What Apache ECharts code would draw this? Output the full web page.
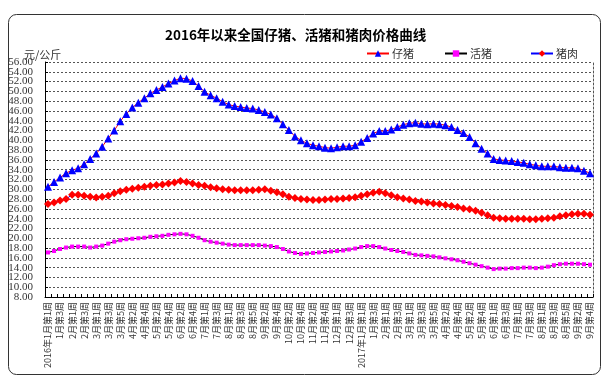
<!DOCTYPE html>
<html>
<head>
<meta charset="utf-8">
<script src="https://cdn.jsdelivr.net/npm/echarts@6/dist/echarts.min.js"></script>
<style>
html,body{margin:0;padding:0;background:#fff;}
#main{width:606px;height:380px;}
</style>
</head>
<body>
<div id="main"></div>
<script>
// Categories: weekly, 2016年1月第1周 .. 2017年9月第4周
var categories = [
'2016年1月第1周','1月第2周','1月第3周','1月第4周',
'2月第1周','2月第2周','2月第3周','2月第4周',
'3月第1周','3月第2周','3月第3周','3月第4周','3月第5周',
'4月第1周','4月第2周','4月第3周','4月第4周',
'5月第1周','5月第2周','5月第3周','5月第4周',
'6月第1周','6月第2周','6月第3周','6月第4周','6月第5周',
'7月第1周','7月第2周','7月第3周','7月第4周',
'8月第1周','8月第2周','8月第3周','8月第4周','8月第5周',
'9月第1周','9月第2周','9月第3周','9月第4周',
'10月第1周','10月第2周','10月第3周','10月第4周',
'11月第1周','11月第2周','11月第3周','11月第4周','11月第5周',
'12月第1周','12月第2周','12月第3周','12月第4周',
'2017年1月第1周','1月第2周','1月第3周','1月第4周',
'2月第1周','2月第2周','2月第3周','2月第4周',
'3月第1周','3月第2周','3月第3周','3月第4周','3月第5周',
'4月第1周','4月第2周','4月第3周','4月第4周',
'5月第1周','5月第2周','5月第3周','5月第4周','5月第5周',
'6月第1周','6月第2周','6月第3周','6月第4周',
'7月第1周','7月第2周','7月第3周','7月第4周',
'8月第1周','8月第2周','8月第3周','8月第4周','8月第5周',
'9月第1周','9月第2周','9月第3周','9月第4周'
];

var piglet = [
30.5,31.5,32.4,33.3,33.9,34.3,35.1,36.2,37.3,38.7,
40.4,42.0,43.9,45.4,46.7,47.7,48.6,49.6,50.3,50.9,
51.6,52.2,52.7,52.6,52.1,51.1,49.9,49.2,48.6,47.9,
47.3,47.0,46.8,46.6,46.5,46.2,45.8,45.3,44.5,43.3,
42.1,40.8,40.0,39.4,39.0,38.8,38.5,38.4,38.6,38.8,
38.8,39.0,39.7,40.5,41.4,41.9,41.9,42.2,42.7,43.2,
43.5,43.6,43.4,43.3,43.4,43.3,43.1,42.7,42.1,41.5,
40.7,39.4,38.3,37.3,36.2,36.0,35.9,35.8,35.6,35.4,
35.1,34.9,34.7,34.7,34.7,34.5,34.4,34.4,34.3,33.8,
33.3
];

var liveHog = [
17.1,17.4,17.8,18.1,18.3,18.3,18.3,18.1,18.3,18.5,
18.9,19.3,19.6,19.8,19.9,20.0,20.1,20.3,20.4,20.5,
20.7,20.8,20.9,20.8,20.5,20.1,19.6,19.3,19.1,18.9,
18.7,18.6,18.6,18.6,18.6,18.6,18.5,18.4,18.2,17.8,
17.3,17.0,16.8,16.9,17.0,17.1,17.2,17.3,17.4,17.5,
17.7,17.9,18.2,18.4,18.4,18.2,17.9,17.6,17.4,17.2,
16.9,16.6,16.5,16.4,16.3,16.1,15.9,15.7,15.5,15.2,
14.9,14.6,14.3,14.0,13.7,13.8,13.8,13.9,13.9,14.0,
14.0,13.9,14.0,14.2,14.5,14.7,14.8,14.8,14.8,14.7,
14.6
];

var pork = [
27.0,27.3,27.7,28.0,28.9,28.9,28.7,28.5,28.3,28.5,
28.7,29.2,29.6,29.9,30.1,30.3,30.5,30.7,30.9,31.0,
31.2,31.4,31.7,31.5,31.2,30.9,30.7,30.4,30.2,30.0,
29.9,29.8,29.8,29.8,29.8,29.9,30.0,29.7,29.4,29.0,
28.5,28.2,28.0,27.9,27.8,27.8,27.9,28.0,28.0,28.1,
28.2,28.4,28.7,29.0,29.3,29.5,29.2,28.8,28.4,28.1,
27.9,27.6,27.5,27.3,27.1,27.0,26.8,26.6,26.4,26.1,
25.9,25.6,25.2,24.7,24.2,24.1,24.0,24.0,24.0,24.0,
23.9,23.9,24.0,24.1,24.2,24.5,24.7,24.9,25.0,25.0,
24.8
];

var seriesNames = ['仔猪','活猪','猪肉'];
var titleText = '2016年以来全国仔猪、活猪和猪肉价格曲线';
var unitText = '元/公斤';
var yMin = 8, yMax = 56, yStep = 2;

var chart = echarts.init(document.getElementById('main'), null, {renderer:'canvas'});
var cjk = '"Noto Sans CJK SC", sans-serif';
var dashed = {color:'#555', type:[2,2], width:1};
var serif = '"Liberation Serif", serif';

function labelAxis(remainder) {
  // Two overlaid label axes so that every 2-unit tick label is printed
  return {type:'value', min:yMin, max:yMax, interval:yStep, position:'left',
    axisLine:{show:false}, axisTick:{show:false}, splitLine:{show:false},
    axisLabel:{fontSize:11, color:'#333', margin:12, fontFamily:serif,
      showMinLabel:true, showMaxLabel:true,
      formatter:function(v){ return (Math.round(v) % 4 === remainder) ? v.toFixed(2) : ''; }}};
}

var legendText = {fontSize:11, color:'#333', fontFamily:cjk, padding:[0,0,0,-2]};

chart.setOption({
  backgroundColor:'#fff',
  animation:false,
  title:[
    {text:titleText, left:160, top:23,
     textStyle:{fontSize:13.5, fontWeight:'bold', color:'#000', fontFamily:cjk}},
    {text:unitText, left:19, top:44,
     textStyle:{fontSize:11, fontWeight:'normal', color:'#333', fontFamily:cjk}}
  ],
  legend:[
    {data:[seriesNames[0]], left:361, top:43, itemWidth:22, itemHeight:8, textStyle:legendText},
    {data:[seriesNames[1]], left:439, top:43, itemWidth:22, itemHeight:8, textStyle:legendText},
    {data:[seriesNames[2]], left:525, top:43, itemWidth:22, itemHeight:8, textStyle:legendText}
  ],
  graphic:[
    {type:'rect', left:6, top:12, shape:{width:592, height:360, r:8},
     style:{fill:'none', stroke:'#333', lineWidth:1}, silent:true}
  ],
  grid:{left:45, right:13, top:62, bottom:83},
  xAxis:{
    type:'category', data:categories, boundaryGap:true,
    axisLine:{lineStyle:{color:'#000', width:1}},
    axisTick:{show:true, inside:true, length:3, interval:0, lineStyle:{color:'#000'}},
    axisLabel:{interval:1, rotate:90, fontSize:9, color:'#333', margin:5, fontFamily:cjk},
    splitLine:{show:false}
  },
  yAxis:[
    {type:'value', min:yMin, max:yMax, interval:yStep,
     axisLine:{show:true, lineStyle:{color:'#000'}},
     axisTick:{show:true, inside:true, length:3, lineStyle:{color:'#000'}},
     axisLabel:{show:false},
     splitLine:{show:true, lineStyle:dashed}},
    {type:'value', min:yMin, max:yMax, interval:yStep, position:'right',
     axisLine:{show:true, lineStyle:dashed},
     axisTick:{show:false}, axisLabel:{show:false}, splitLine:{show:false}},
    labelAxis(0),
    labelAxis(2)
  ],
  series:[
    {name:seriesNames[0], type:'line', data:piglet, symbol:'triangle', symbolSize:8,
     showAllSymbol:true,
     lineStyle:{color:'#ff0000', width:1}, itemStyle:{color:'#0000ff'}, z:3},
    {name:seriesNames[1], type:'line', data:liveHog, symbol:'rect', symbolSize:4,
     showAllSymbol:true,
     lineStyle:{color:'#000000', width:1}, itemStyle:{color:'#ff00ff'}, z:2},
    {name:seriesNames[2], type:'line', data:pork, symbol:'diamond', symbolSize:8,
     showAllSymbol:true,
     lineStyle:{color:'#0000ff', width:1}, itemStyle:{color:'#ff0000'}, z:2}
  ]
});
</script>
</body>
</html>
